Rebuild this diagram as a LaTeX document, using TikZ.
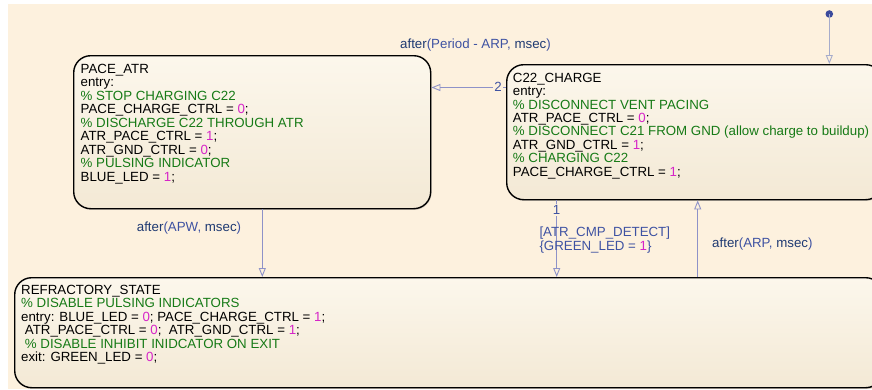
\documentclass[tikz,border=0pt]{standalone}
\usepackage{fontspec}
\setmainfont{Liberation Sans}
\usetikzlibrary{arrows.meta,shadows}

\definecolor{canvasbg}{HTML}{FDF1DE}
\definecolor{statetop}{HTML}{FCF7EC}
\definecolor{statebot}{HTML}{F3E9D5}
\definecolor{cmtgreen}{RGB}{22,122,22}
\definecolor{nummag}{RGB}{214,36,200}
\definecolor{kwblue}{HTML}{1F3A72}
\definecolor{lblblue}{HTML}{3E52A2}
\definecolor{transline}{HTML}{8E92C8}
\definecolor{initline}{HTML}{A6ACCB}
\definecolor{initdot}{HTML}{3B4A9C}

% comment lines, numeric literals and keywords of the action language
\newcommand\cmt[1]{\textcolor{cmtgreen}{#1}}
\newcommand\nv[1]{\textcolor{nummag}{#1}}
\newcommand\kw[1]{\textcolor{kwblue}{#1}}

\begin{document}
\begin{tikzpicture}[x=1pt,y=-1pt,
  chartfont/.style={font=\fontsize{13.3}{13.45}\selectfont},
  state/.style={draw=black, line width=1.4pt, rounded corners=17pt,
    top color=statetop, bottom color=statebot,
    drop shadow={shadow xshift=0.8pt, shadow yshift=-1.2pt, opacity=0.3},
    anchor=north west, inner sep=0pt},
  code/.style={chartfont, align=left, anchor=north west, inner sep=0pt},
  trans/.style={draw=transline, line width=0.9pt,
    -{Triangle[open,length=9pt,width=7pt]}},
  lbl/.style={chartfont, text=lblblue, inner sep=0pt, anchor=base west},
  tnum/.style={chartfont, text=lblblue, fill=canvasbg, inner sep=1pt, anchor=base},
]
% page and chart canvas
\useasboundingbox (0,0) rectangle (872,389);
\fill[white] (0,0) rectangle (872,389);
\clip (0,0) rectangle (872,389);
\fill[canvasbg] (8,4) rectangle (872,389);

% states
\node[state, minimum width=357pt, minimum height=153pt] (pace) at (73,55) {};
\node[state, minimum width=376pt, minimum height=135pt] (c22) at (506,64) {};
\node[state, minimum width=868pt, minimum height=110pt] (refr) at (14,277) {};

\node[code] (paceTxt) at (80.5,64) {PACE\_ATR\\
entry:\\
\cmt{\% STOP CHARGING C22}\\
PACE\_CHARGE\_CTRL = \nv{0};\\
\cmt{\% DISCHARGE C22 THROUGH ATR}\\
ATR\_PACE\_CTRL = \nv{1};\\
ATR\_GND\_CTRL = \nv{0};\\
\cmt{\% PULSING INDICATOR}\\
BLUE\_LED = \nv{1};};

\node[code] (c22Txt) at (512.7,72.7) {C22\_CHARGE\\
entry:\\
\cmt{\% DISCONNECT VENT PACING}\\
ATR\_PACE\_CTRL = \nv{0};\\
\cmt{\% DISCONNECT C21 FROM GND (allow charge to buildup)}\\
ATR\_GND\_CTRL = \nv{1};\\
\cmt{\% CHARGING C22}\\
PACE\_CHARGE\_CTRL = \nv{1};};

\node[code] (refrTxt) at (21,285) {REFRACTORY\_STATE\\
\cmt{\% DISABLE PULSING INDICATORS}\\
entry: BLUE\_LED = \nv{0}; PACE\_CHARGE\_CTRL = \nv{1};\\
\hspace*{3.7pt}ATR\_PACE\_CTRL = \nv{0};\hspace*{3.7pt} ATR\_GND\_CTRL = \nv{1};\\
\hspace*{3.7pt}\cmt{\% DISABLE INHIBIT INIDCATOR ON EXIT}\\
exit: GREEN\_LED = \nv{0};};

% default transition
\fill[initdot] (829.3,14) circle (3.8pt) coordinate (init);
\draw[trans, draw=initline] (init) -- (c22.north -| 829.3,0);

% transitions
\draw[trans] (c22.west |- 0,87.5) -- (pace.east |- 0,87.5);
\node[tnum] (t2) at (498,91.8) {2};
\node[lbl] (t2lbl) at (400,48.5) {\kw{after}(Period - ARP, \kw{msec})};

\draw[trans] (pace.south -| 262.3,0) -- (refr.north -| 262.3,0);
\node[lbl] (apwLbl) at (136.7,231) {\kw{after}(APW, \kw{msec})};

\draw[trans] (c22.south -| 556.7,0) -- (refr.north -| 556.7,0);
\node[tnum] (t1) at (556.5,214.5) {1};
\node[lbl] (cmpGuard) at (539.3,236.8) {[ATR\_CMP\_DETECT]};
\node[lbl] (cmpAction) at (539.3,250.2) {\{GREEN\_LED = \nv{1}\}};

\draw[trans] (refr.north -| 697.7,0) -- (c22.south -| 697.7,0);
\node[lbl] (arpLbl) at (712,247) {\kw{after}(ARP, \kw{msec})};
\end{tikzpicture}
\end{document}
